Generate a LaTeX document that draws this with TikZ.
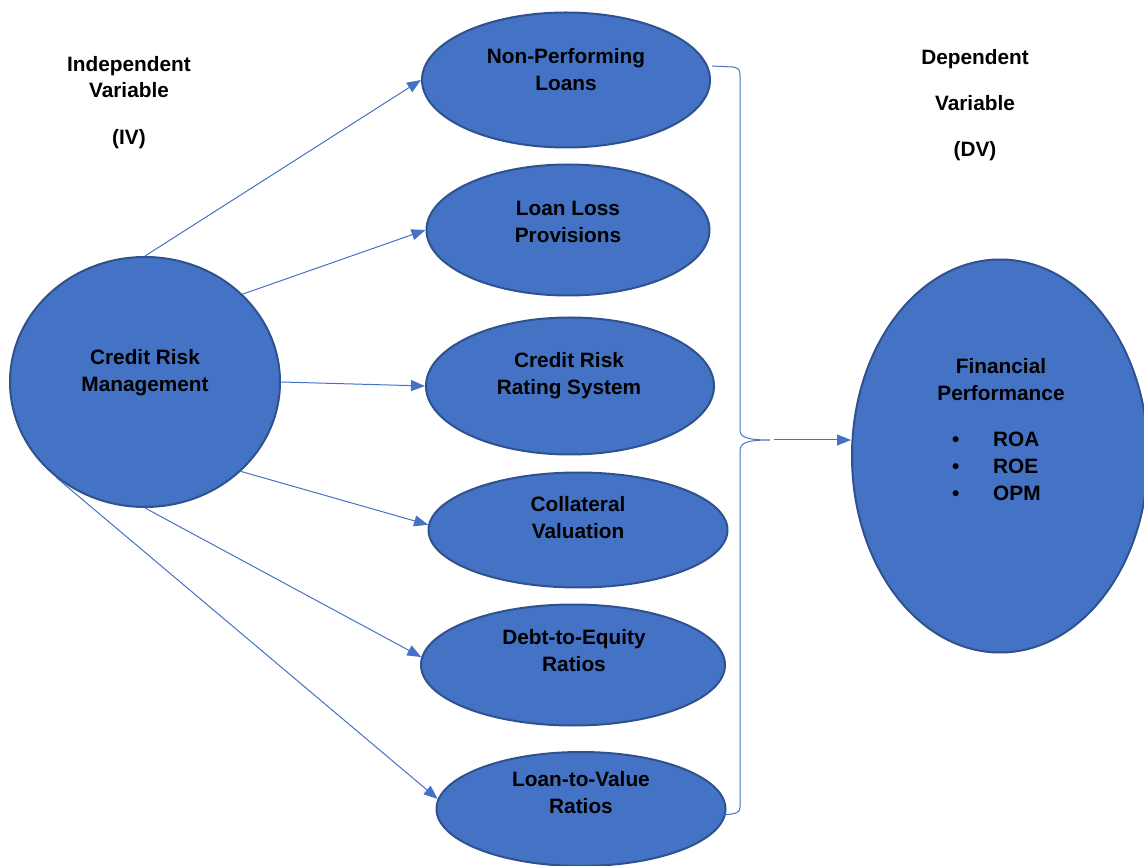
\documentclass[tikz,border=0pt]{standalone}
\usepackage{fontspec}
\setmainfont{Liberation Sans}
\usetikzlibrary{shapes.geometric,arrows.meta}
\definecolor{fillblue}{HTML}{4472C4}
\definecolor{edgeblue}{HTML}{2F528F}
\begin{document}
\begin{tikzpicture}[x=1pt,y=-1pt,
  oval/.style={ellipse, draw=edgeblue, fill=fillblue, line width=2pt, inner sep=0pt},
  lbl/.style={font=\fontsize{20.8}{27}\selectfont\bfseries, align=center, text=black, inner sep=0pt},
  arr/.style={draw=fillblue, line width=1pt, -{Triangle[length=14pt,width=11pt]}},
  bracestyle/.style={draw=fillblue, line width=1pt}]
\useasboundingbox (0,0) rectangle (1144,866);
\clip (0,0) rectangle (1144,866);

% ellipses
\node[oval, minimum width=270pt, minimum height=250pt] (crm) at (145,382) {};
\node[oval, minimum width=288pt, minimum height=135pt] (npl) at (566,80) {};
\node[oval, minimum width=283pt, minimum height=131pt] (llp) at (568,230) {};
\node[oval, minimum width=288pt, minimum height=137pt] (crs) at (570,386) {};
\node[oval, minimum width=299pt, minimum height=115pt] (cv) at (578,530) {};
\node[oval, minimum width=304pt, minimum height=121pt] (de) at (573,665) {};
\node[oval, minimum width=289pt, minimum height=114pt] (ltv) at (581,809) {};
\node[oval, minimum width=296pt, minimum height=393pt] (fp) at (1000,456) {};

% texts
\node[lbl] (crmt) at (145,373) {Credit Risk\\Management};
\node[lbl] (nplt) at (566,70) {Non-Performing\\Loans};
\node[lbl] (llpt) at (568,222) {Loan Loss\\Provisions};
\node[lbl] (crst) at (569,376) {Credit Risk\\Rating System};
\node[lbl] (cvt) at (578,518) {Collateral\\Valuation};
\node[lbl] (det) at (574,651) {Debt-to-Equity\\Ratios};
\node[lbl] (ltvt) at (581,793) {Loan-to-Value\\Ratios};
\node[lbl] (fpt) at (1001,380) {Financial\\Performance};
\node[lbl, align=left, anchor=west] (fpl) at (952,466) {\makebox[41pt][l]{•}ROA\\\makebox[41pt][l]{•}ROE\\\makebox[41pt][l]{•}OPM};

\node[lbl, font=\fontsize{20.8}{26}\selectfont\bfseries] (iv) at (129,103) {Independent\\Variable\\[21pt](IV)};
\node[lbl, font=\fontsize{20.8}{46}\selectfont\bfseries] (dv) at (975,105) {Dependent\\Variable\\(DV)};

% arrows
\draw[arr] (crm.north) -- (npl.west);
\draw[arr] (crm.42) -- (llp.west);
\draw[arr] (crm.east) -- (crs.west);
\draw[arr] (crm.-43) -- (cv.178);
\draw[arr] (crm.south) -- (de.177);
\draw[arr] (crm.-133) -- (ltv.176);

% brace
\coordinate (btop) at (712,66);
\coordinate (bbot) at (722,815);
\coordinate (btip) at (770,440);
\coordinate (astart) at (774,440);
\draw[bracestyle] (btop) -- (733,67) .. controls (739,68) and (740,70) .. (740,76)
  -- (740,430) .. controls (740,437) and (746,440) .. (btip)
  .. controls (746,440) and (740,443) .. (740,451)
  -- (740,807) .. controls (740,812) and (738,814) .. (bbot);
\draw[arr] (astart) -- (fp.west |- astart);
\end{tikzpicture}
\end{document}
